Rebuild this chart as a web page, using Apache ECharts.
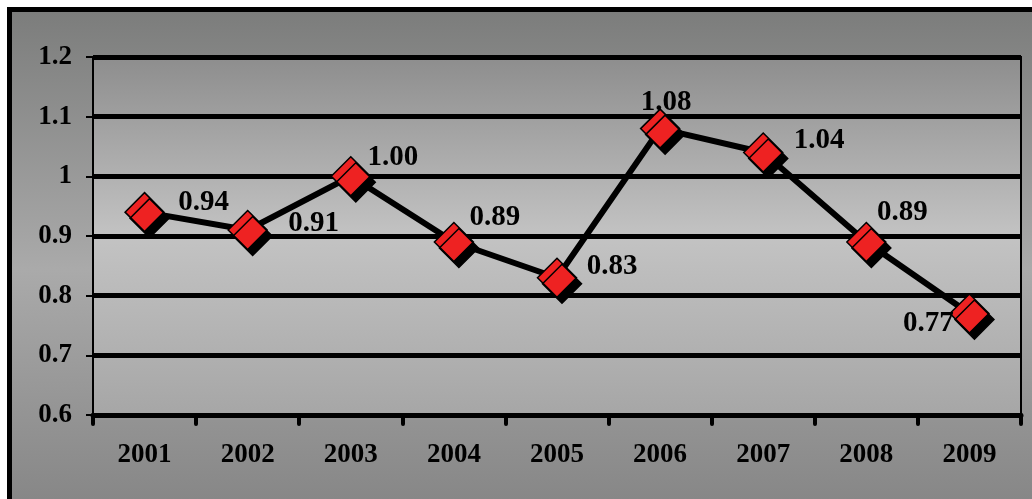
<!DOCTYPE html>
<html>
<head>
<meta charset="utf-8">
<script src="https://cdn.jsdelivr.net/npm/echarts@6/dist/echarts.min.js"></script>
<style>
html,body{margin:0;padding:0;background:#ffffff;}
#chart{width:1032px;height:499px;}
</style>
</head>
<body>
<div id="chart"></div>
<script>
const categories = ['2001','2002','2003','2004','2005','2006','2007','2008','2009'];
const values = [0.94, 0.91, 1.00, 0.89, 0.83, 1.08, 1.04, 0.89, 0.77];
const valueLabels = ['0.94','0.91','1.00','0.89','0.83','1.08','1.04','0.89','0.77'];
// label placement (style only): offset from marker centre in px
const labelOffsets = [[59,-10],[66,-7],[42,-19],[41,-24],[55,-11],[6,-26],[56,-12],[36,-29],[-41,10]];

const chart = echarts.init(document.getElementById('chart'), null, {renderer:'canvas'});
const font = '"Liberation Serif","Times New Roman",serif';

const seriesData = values.map((v,i)=>({
  value: v,
  label: {offset: labelOffsets[i], formatter: valueLabels[i]}
}));

chart.setOption({
  animation:false,
  graphic:[{
    type:'rect', z:-10, silent:true,
    shape:{x:9.5,y:9.5,width:1060,height:520},
    style:{
      fill:new echarts.graphic.LinearGradient(0,0,0,1,[
        {offset:0,color:'#7b7c7b'},
        {offset:0.5,color:'#aaaaaa'},
        {offset:0.95,color:'#868686'},
        {offset:1,color:'#828282'}
      ]),
      stroke:'#000', lineWidth:5
    }
  }],
  grid:{
    left:93, right:11, top:57, bottom:84,
    show:true,
    backgroundColor:new echarts.graphic.LinearGradient(0,0,0,1,[
      {offset:0,color:'#8d8d8d'},
      {offset:0.5,color:'#c3c3c3'},
      {offset:1,color:'#a6a6a6'}
    ]),
    borderColor:'#000', borderWidth:2
  },
  xAxis:{
    type:'category',
    data:categories,
    boundaryGap:true,
    axisLine:{show:true,lineStyle:{color:'#000',width:5}},
    axisTick:{show:true,alignWithLabel:false,length:9,lineStyle:{color:'#000',width:4,cap:'round'}},
    axisLabel:{color:'#000',fontFamily:font,fontWeight:'bold',fontSize:27,margin:27},
    splitLine:{show:false}
  },
  yAxis:{
    type:'value',
    min:0.6, max:1.2, interval:0.1,
    axisLine:{show:true,lineStyle:{color:'#000',width:2}},
    axisTick:{show:true,length:7,lineStyle:{color:'#000',width:2}},
    axisLabel:{color:'#000',fontFamily:font,fontWeight:'bold',fontSize:27,margin:21,
      formatter:function(v){return String(Math.round(v*10)/10);}},
    splitLine:{show:true,lineStyle:{color:'#000',width:5}}
  },
  series:[{
    type:'line',
    data:seriesData,
    symbol:'diamond',
    symbolSize:39,
    lineStyle:{color:'#000',width:6},
    itemStyle:{color:'#ee2222',borderColor:'#000',borderWidth:1.5,
      shadowColor:'#000',shadowBlur:0,shadowOffsetX:5,shadowOffsetY:6},
    label:{show:true,position:'inside',color:'#000',fontFamily:font,fontWeight:'bold',fontSize:29},
    z:5
  }]
});
</script>
</body>
</html>
